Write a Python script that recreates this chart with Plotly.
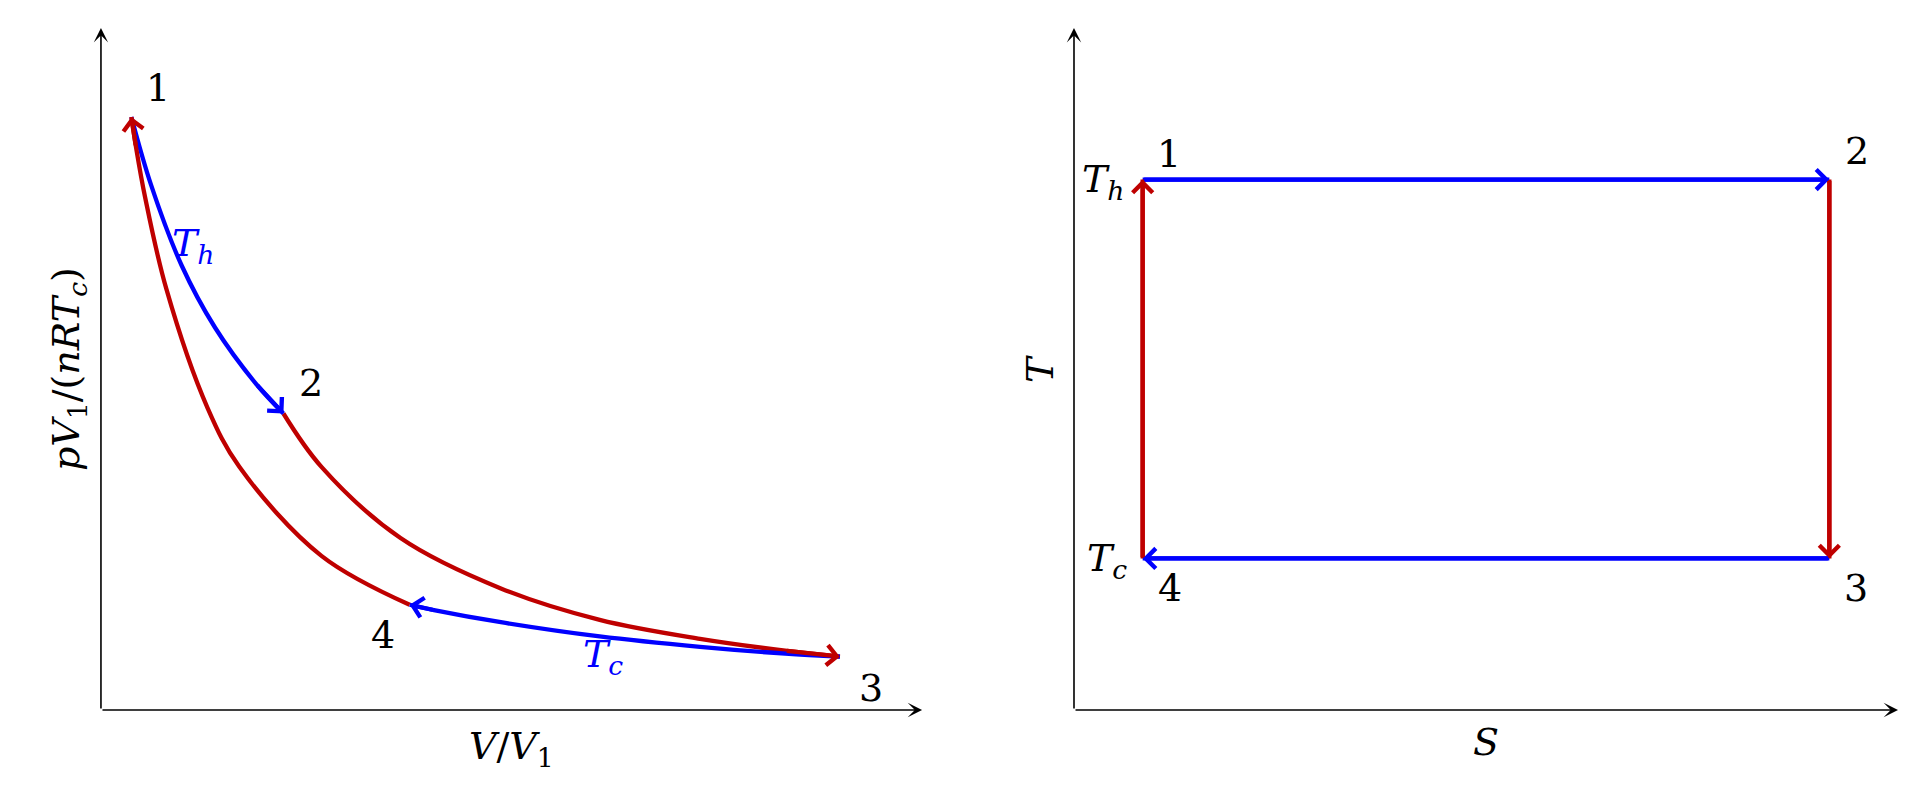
import plotly.graph_objects as go

# p-V diagram, values
# V in units of V1, p in units of nRTc/V1
v_hot = [1.00, 1.13, 1.33, 1.55, 1.82, 2.00]
p_hot = [2.00, 1.77, 1.50, 1.29, 1.10, 1.00]

v_adia_23 = [2.00, 2.25, 2.77, 3.43, 4.08, 4.74, 5.30, 5.66]
p_adia_23 = [1.00, 0.82, 0.58, 0.41, 0.304, 0.24, 0.20, 0.18]

v_cold = [5.66, 5.30, 4.74, 4.08, 3.43, 2.99, 2.83]
p_cold = [0.18, 0.19, 0.213, 0.248, 0.296, 0.337, 0.355]

v_adia_41 = [2.83, 2.25, 1.71, 1.50, 1.23, 1.09, 1.03, 1.00]
p_adia_41 = [0.355, 0.52, 0.82, 1.02, 1.42, 1.73, 1.90, 2.00]

state_names = ["1", "2", "3", "4"]
v_states = [1.00, 2.00, 5.66, 2.83]
p_states = [2.00, 1.00, 0.18, 0.355]

# T-S diagram (arbitrary units)
s_states = [1, 11, 11, 1]
t_states = [7, 7, 2, 2]

pv_xrange = [0.8, 6.2]
pv_yrange = [0, 2.3]
ts_xrange = [0, 12]
ts_yrange = [0, 9]

BLUE = "#0000FF"
RED = "#BF0000"
FONT = "DejaVu Serif"
FS = 38
LW = 4.3

fig = go.Figure()


def curve(x, y, color, xa, ya):
    fig.add_trace(go.Scatter(x=x, y=y, mode="lines", xaxis=xa, yaxis=ya,
                             line=dict(color=color, width=LW, shape="spline", smoothing=1),
                             hoverinfo="skip", showlegend=False))


def arrow(xa, ya, x0, y0, x1, y1, color, width=LW, head=4, size=0.9):
    fig.add_annotation(x=x1, y=y1, ax=x0, ay=y0, xref=xa, yref=ya, axref=xa, ayref=ya,
                       text="", showarrow=True, arrowhead=head, arrowsize=size,
                       arrowwidth=width, arrowcolor=color, standoff=0)


def label(xa, ya, x, y, txt, dx, dy, color="black", xanchor="center", angle=0):
    fig.add_annotation(x=x, y=y, xref=xa, yref=ya, text=txt, showarrow=False,
                       xshift=dx, yshift=dy, xanchor=xanchor, yanchor="middle",
                       textangle=angle, font=dict(family=FONT, size=FS, color=color))


# ---- left panel: p-V ----
curve(v_adia_23, p_adia_23, RED, "x", "y")
curve(v_cold, p_cold, BLUE, "x", "y")
curve(v_hot, p_hot, BLUE, "x", "y")
curve(v_adia_41, p_adia_41, RED, "x", "y")

for xs, ys, col in [(v_hot, p_hot, BLUE), (v_adia_23, p_adia_23, RED),
                    (v_cold, p_cold, BLUE), (v_adia_41, p_adia_41, RED)]:
    arrow("x", "y", xs[-2], ys[-2], xs[-1], ys[-1], col)

# axes with arrow tips
arrow("x", "y", pv_xrange[0], pv_yrange[0], pv_xrange[1], pv_yrange[0], "black", 1.6, 3, 1.5)
arrow("x", "y", pv_xrange[0], pv_yrange[0], pv_xrange[0], pv_yrange[1], "black", 1.6, 3, 1.5)

pv_offsets = [(27, 29), (28, 30), (31, -31), (-27, -30)]
for name, v, p, (dx, dy) in zip(state_names, v_states, p_states, pv_offsets):
    label("x", "y", v, p, name, dx, dy)

label("x", "y", v_hot[2], p_hot[2], "<i>T</i><sub><i>h</i></sub>", -12, 20, BLUE, "left")
label("x", "y", v_cold[3], p_cold[3], "<i>T</i><sub><i>c</i></sub>", 3, -20, BLUE)

label("x domain", "y domain", 0.5, 0, "<i>V</i>/<i>V</i><sub>1</sub>", 0, -38)
label("x domain", "y domain", 0, 0.5,
      "<i>pV</i><sub>1</sub>/(<i>nRT</i><sub><i>c</i></sub>)", -33, 0, angle=-90)

# ---- right panel: T-S ----
order = [0, 1, 2, 3, 0]
colors = [BLUE, RED, BLUE, RED]
for i in range(4):
    a, b = order[i], order[i + 1]
    curve([s_states[a], s_states[b]], [t_states[a], t_states[b]], colors[i], "x2", "y2")
for i in range(4):
    a, b = order[i], order[i + 1]
    arrow("x2", "y2", s_states[a], t_states[a], s_states[b], t_states[b], colors[i])

arrow("x2", "y2", ts_xrange[0], ts_yrange[0], ts_xrange[1], ts_yrange[0], "black", 1.6, 3, 1.5)
arrow("x2", "y2", ts_xrange[0], ts_yrange[0], ts_xrange[0], ts_yrange[1], "black", 1.6, 3, 1.5)

ts_offsets = [(26, 26), (28, 29), (27, -30), (27, -30)]
for name, s, t, (dx, dy) in zip(state_names, s_states, t_states, ts_offsets):
    label("x2", "y2", s, t, name, dx, dy)

label("x2", "y2", s_states[0], t_states[0], "<i>T</i><sub><i>h</i></sub>", -16, -2, "black", "right")
label("x2", "y2", s_states[3], t_states[3], "<i>T</i><sub><i>c</i></sub>", -14, -2, "black", "right")

label("x2 domain", "y2 domain", 0.5, 0, "<i>S</i>", 0, -32)
label("x2 domain", "y2 domain", 0, 0.5, "<i>T</i>", -34, 0, angle=-90)

hidden = dict(visible=False, showgrid=False, zeroline=False)
fig.update_layout(
    width=1923, height=812,
    margin=dict(l=0, r=0, t=0, b=0),
    paper_bgcolor="white", plot_bgcolor="white",
    xaxis=dict(domain=[0.0525, 0.4795], range=pv_xrange, **hidden),
    yaxis=dict(domain=[0.1256, 0.9655], range=pv_yrange, **hidden),
    xaxis2=dict(domain=[0.5585, 0.9870], range=ts_xrange, anchor="y2", **hidden),
    yaxis2=dict(domain=[0.1256, 0.9655], range=ts_yrange, anchor="x2", **hidden),
)

fig.write_html("out.html", post_script="document.body.style.margin='0';",
               config={"displayModeBar": False})
